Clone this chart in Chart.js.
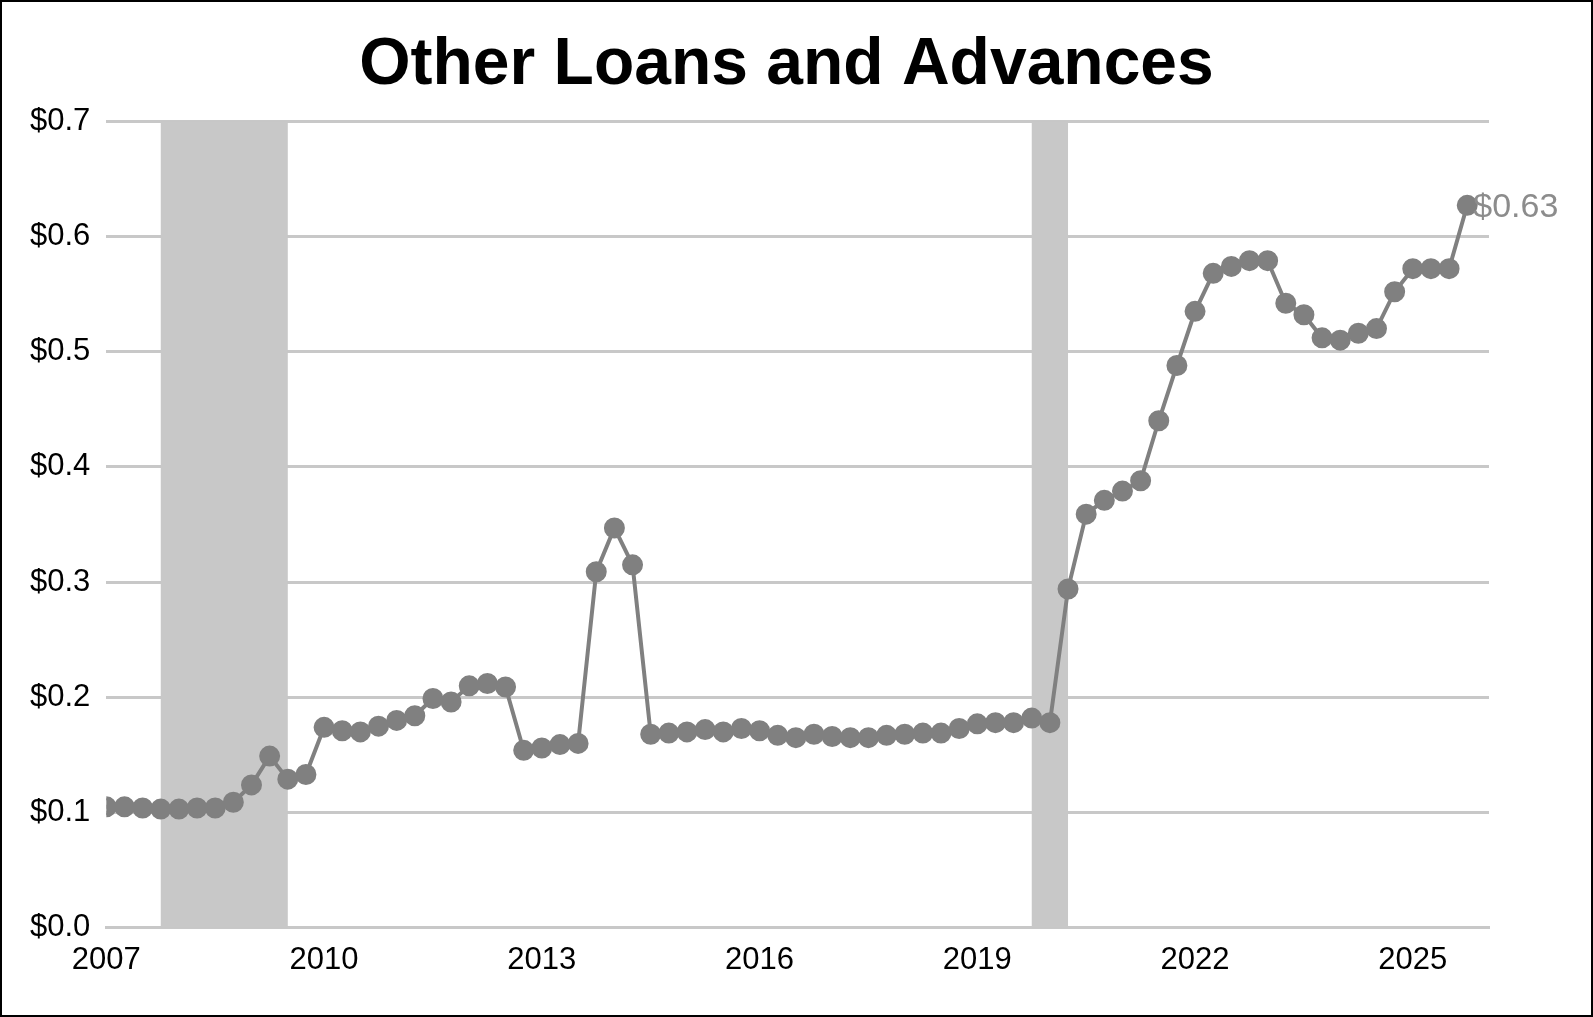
<!DOCTYPE html>
<html><head><meta charset="utf-8">
<script src="https://cdn.jsdelivr.net/npm/chart.js@4"></script>
<style>html,body{margin:0;padding:0;background:#fff}#w{width:1589px;height:1013px;border:2px solid #000;position:relative}</style>
</head><body><div id="w"><canvas id="c"></canvas></div>
<script>
const startYear = 2007;
const values = [0.105,0.105,0.104,0.103,0.103,0.104,0.104,0.109,0.124,0.149,0.129,0.133,
0.174,0.171,0.170,0.175,0.180,0.184,0.199,0.196,0.210,0.212,0.209,0.154,0.156,0.159,0.160,
0.309,0.347,0.315,0.168,0.169,0.170,0.172,0.170,0.173,0.171,0.167,0.165,0.168,0.166,0.165,
0.165,0.167,0.168,0.169,0.169,0.173,0.177,0.178,0.178,0.182,0.178,0.294,0.359,0.371,0.379,
0.388,0.440,0.488,0.535,0.568,0.574,0.579,0.579,0.542,0.532,0.512,0.510,0.516,0.520,0.552,
0.572,0.572,0.572,0.627];
const recessions = [[2007.75,2009.5],[2019.75,2020.25]];
const tickYears = [2007,2010,2013,2016,2019,2022,2025];
const lastLabel = "$0.63";
const titleText = 'Other Loans and Advances';
const pts = values.map((v,i)=>({x:startYear+i*0.25,y:v}));
const FONT='"Liberation Sans", Arial';
const shade = {id:'shade',beforeDatasetsDraw(ch){const {ctx,chartArea:a,scales:{x}}=ch;ctx.save();ctx.fillStyle='#c8c8c8';
 recessions.forEach(r=>{const l=x.getPixelForValue(r[0]),rr=x.getPixelForValue(r[1]);ctx.fillRect(l,a.top,rr-l,a.bottom-a.top);});ctx.restore();}};
const lab = {id:'lab',afterDatasetsDraw(ch){const m=ch.getDatasetMeta(0).data;const p=m[m.length-1];const c=ch.ctx;c.save();
 c.fillStyle='#8c8c8c';c.font='34px '+FONT;c.textBaseline='middle';c.fillText(lastLabel,p.x+6,p.y+2);
 c.fillStyle='#000';c.font='bold 66px '+FONT;c.textAlign='center';c.textBaseline='middle';c.fillText(titleText,ch.width/2-10,64);c.restore();}};
new Chart(document.getElementById('c'),{type:'scatter',
 data:{datasets:[{data:pts,showLine:true,borderColor:'#808080',backgroundColor:'#808080',borderWidth:4,pointRadius:8.5,pointHoverRadius:8.5}]},
 options:{responsive:true,maintainAspectRatio:false,animation:false,
  layout:{padding:{left:12,right:102,top:0,bottom:22}},
  plugins:{legend:{display:false},tooltip:{enabled:false},
   title:{display:true,text:titleText,color:'rgba(0,0,0,0)',font:{family:FONT,size:66,weight:'bold'},padding:{top:18,bottom:22}}},
  scales:{
   x:{type:'linear',min:2007,max:2026.05,grid:{display:false,drawTicks:false},border:{color:'#c8c8c8',width:3},
    afterBuildTicks(s){s.ticks=tickYears.map(v=>({value:v}));},
    ticks:{color:'#000',font:{family:FONT,size:31},padding:14,callback:v=>String(v),maxRotation:0}},
   y:{min:0,max:0.7,grid:{color:'#c8c8c8',lineWidth:3,drawTicks:false},border:{display:false},
    ticks:{stepSize:0.1,color:'#000',font:{family:FONT,size:31},padding:16,callback:v=>'$'+v.toFixed(1)}}}},
 plugins:[shade,lab]});
</script></body></html>
